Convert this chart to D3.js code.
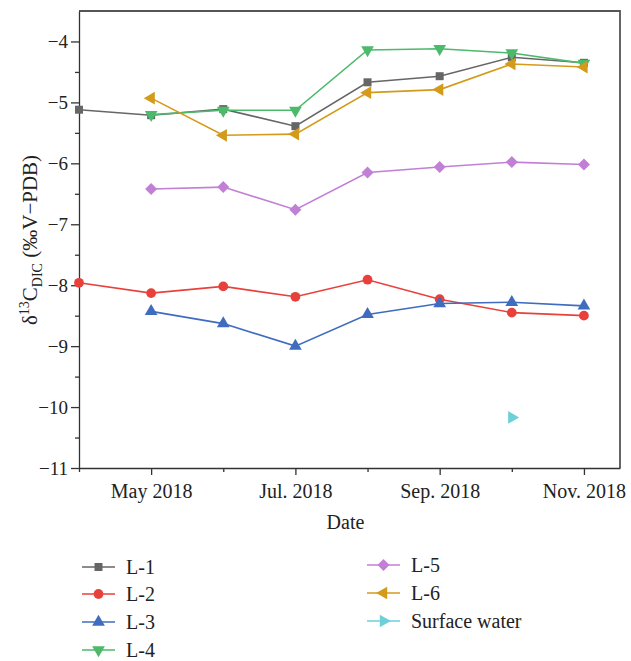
<!DOCTYPE html>
<html>
<head>
<meta charset="utf-8">
<title>DIC carbon isotope</title>
<script src="https://cdn.jsdelivr.net/npm/d3@7"></script>
<style>
    body { margin: 0; background: #fff; }
    svg text { font-family: "Liberation Serif", "DejaVu Serif", serif; fill: #222; }
    .axis path, .axis line { stroke: #333; stroke-width: 1.3; }
    .frame { stroke: #555; stroke-width: 1.8; fill: none; }
</style>
</head>
<body>
<script>
// months counted from Apr 2018 (0) to Nov 2018 (7)
var months = [0, 1, 2, 3, 4, 5, 6, 7];
var tickMonths = [1, 3, 5, 7];
var tickLabels = ["May 2018", "Jul. 2018", "Sep. 2018", "Nov. 2018"];
var yTicks = [-11, -10, -9, -8, -7, -6, -5, -4];

var seriesNames = ["L-1", "L-2", "L-3", "L-4", "L-5", "L-6", "Surface water"];
var L1 = [-5.12, -5.21, -5.11, -5.39, -4.67, -4.57, -4.26, -4.35];
var L2 = [-7.96, -8.13, -8.02, -8.19, -7.91, -8.23, -8.45, -8.50];
var L3 = [null, -8.43, -8.63, -9.00, -8.48, -8.30, -8.28, -8.34];
var L4 = [null, -5.20, -5.13, -5.13, -4.14, -4.12, -4.19, -4.36];
var L5 = [null, -6.42, -6.39, -6.76, -6.15, -6.06, -5.98, -6.02];
var L6 = [null, -4.93, -5.54, -5.52, -4.84, -4.79, -4.37, -4.42];
var surface = [null, null, null, null, null, null, -10.17, null];

var colors = ["#666666", "#e8413c", "#3f6cbf", "#4cb96b", "#c27fd6", "#d49a1a", "#6dd0d8"];
var shapes = ["square", "circle", "up", "down", "diamond", "left", "right"];

var width = 631, height = 661,
    margins = {top: 11, left: 79, right: 11, bottom: 193};

var svg = d3.select("body").append("svg")
    .attr("width", width)
    .attr("height", height);

var x = d3.scaleLinear().domain([0, 7.5]).range([margins.left, width - margins.right]);
var y = d3.scaleLinear().domain([-11, -3.5]).range([height - margins.bottom, margins.top]);

// frame top + right
svg.append("path")
    .attr("class", "frame")
    .attr("d", "M" + x(0) + "," + y(-3.5) + "H" + x(7.5) + "V" + y(-11));

// x axis: minor then major
svg.append("g").attr("class", "axis")
    .attr("transform", "translate(0," + y(-11) + ")")
    .call(d3.axisBottom(x).tickValues([0, 2, 4, 6]).tickSize(4).tickFormat(""))
    .call(function (g) { g.select(".domain").remove(); });

var xAxis = svg.append("g").attr("class", "axis")
    .attr("transform", "translate(0," + y(-11) + ")")
    .call(d3.axisBottom(x).tickValues(tickMonths).tickSizeInner(7).tickSizeOuter(0)
        .tickFormat(function (d, i) { return tickLabels[i]; }));
xAxis.selectAll("text").style("font-size", "20px").attr("dy", "1.0em");

// y axis: minor then major
svg.append("g").attr("class", "axis")
    .attr("transform", "translate(" + x(0) + ",0)")
    .call(d3.axisLeft(y).tickValues(d3.range(-10.5, -3.5, 1)).tickSize(4).tickFormat(""))
    .call(function (g) { g.select(".domain").remove(); });

var yAxis = svg.append("g").attr("class", "axis")
    .attr("transform", "translate(" + x(0) + ",0)")
    .call(d3.axisLeft(y).tickValues(yTicks).tickSizeInner(8).tickSizeOuter(0)
        .tickFormat(function (d) { return "\u2212" + Math.abs(d); }));
yAxis.selectAll("text").style("font-size", "19px").attr("x", -11);

// axis titles
svg.append("text")
    .attr("x", x(3.75) - 4).attr("y", 529)
    .attr("text-anchor", "middle")
    .style("font-size", "20px")
    .text("Date");

var yl = svg.append("text")
    .attr("transform", "translate(37," + 240 + ") rotate(-90)")
    .attr("text-anchor", "middle")
    .style("font-size", "21px");
yl.append("tspan").text("\u03b4");
yl.append("tspan").attr("dy", -8).style("font-size", "14px").text("13");
yl.append("tspan").attr("dy", 8).text("C");
yl.append("tspan").attr("dy", 5).style("font-size", "14px").text("DIC");
yl.append("tspan").attr("dy", -5).text(" (\u2030V\u2212PDB)");

function symbolPath(shape) {
    if (shape === "square") return d3.symbol(d3.symbolSquare, 64)();
    if (shape === "circle") return d3.symbol(d3.symbolCircle, 75)();
    if (shape === "diamond") return "M0,-6L6,0L0,6L-6,0Z";
    return d3.symbol(d3.symbolTriangle, 70)();
}
function rotation(shape) {
    return {up: 0, down: 180, left: -90, right: 90}[shape] || 0;
}

var allSeries = [L1, L2, L3, L4, L5, L6, surface];

var line = d3.line()
    .defined(function (d) { return d != null; })
    .x(function (d, i) { return x(months[i]); })
    .y(function (d) { return y(d); });

allSeries.forEach(function (values, k) {
    var g = svg.append("g");
    g.append("path")
        .attr("d", line(values))
        .attr("fill", "none")
        .attr("stroke", colors[k])
        .attr("stroke-width", 1.6);
    g.selectAll("path.mark")
        .data(values.map(function (v, i) { return {m: months[i], v: v}; })
            .filter(function (d) { return d.v != null; }))
        .enter().append("path")
        .attr("class", "mark")
        .attr("d", symbolPath(shapes[k]))
        .attr("fill", colors[k])
        .attr("transform", function (d) {
            return "translate(" + x(d.m) + "," + y(d.v) + ") rotate(" + rotation(shapes[k]) + ")";
        });
});

// legend
var legendPos = [
    {x: 82, y: 567}, {x: 82, y: 594}, {x: 82, y: 622}, {x: 82, y: 650},
    {x: 367, y: 565}, {x: 367, y: 593}, {x: 367, y: 621}
];
seriesNames.forEach(function (name, k) {
    var p = legendPos[k];
    var g = svg.append("g").attr("transform", "translate(" + p.x + "," + p.y + ")");
    g.append("line").attr("x1", 0).attr("x2", 33)
        .attr("stroke", colors[k]).attr("stroke-width", 1.6);
    g.append("path")
        .attr("d", symbolPath(shapes[k]))
        .attr("fill", colors[k])
        .attr("transform", "translate(16.5,0) rotate(" + rotation(shapes[k]) + ")");
    g.append("text")
        .attr("x", 44).attr("dy", "0.35em")
        .style("font-size", "20px")
        .text(name);
});
</script>
</body>
</html>
